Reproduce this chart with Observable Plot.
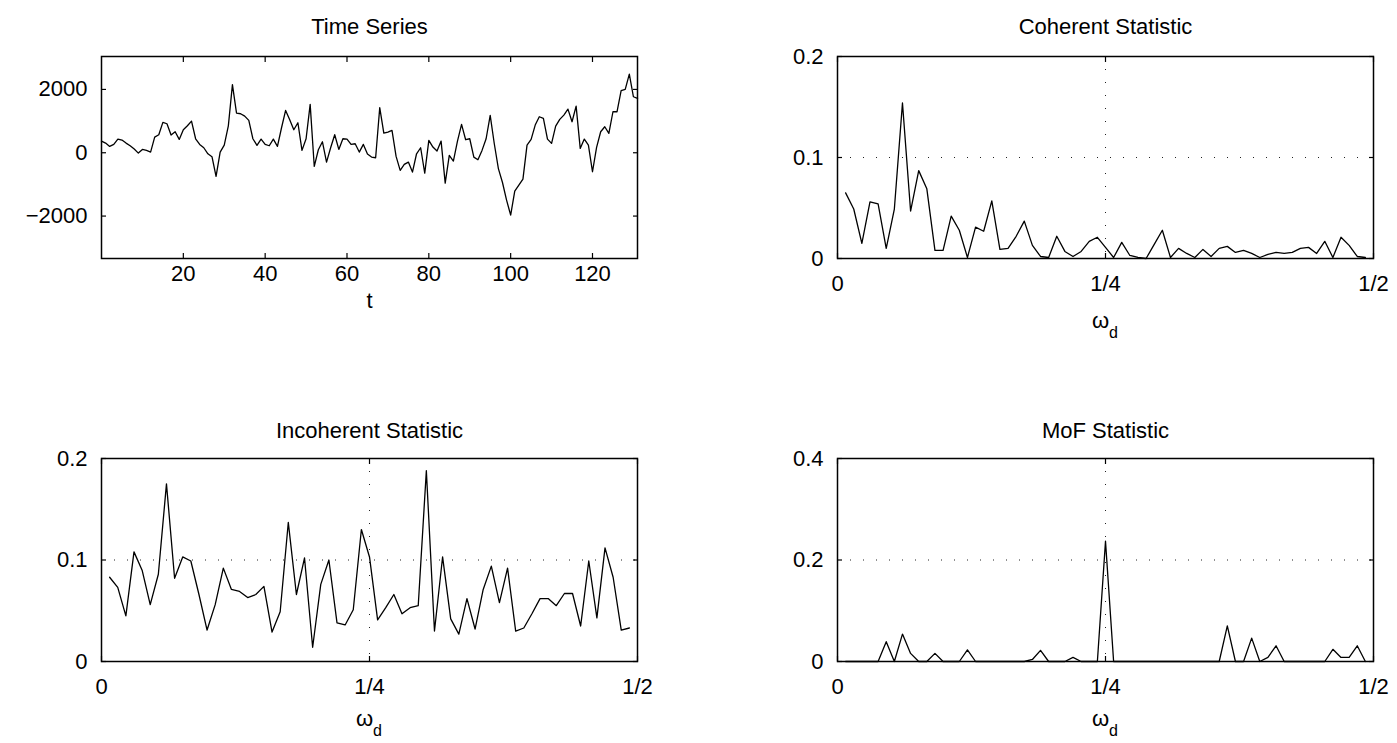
<!DOCTYPE html>
<html><head><meta charset="utf-8">
<script src="https://cdn.jsdelivr.net/npm/d3@7"></script>
<script src="https://cdn.jsdelivr.net/npm/@observablehq/plot@0.6"></script>
<style>
html,body{margin:0;padding:0;background:#fff;}
#root{position:relative;width:1397px;height:743px;overflow:hidden;background:#fff;}
.panel{position:absolute;}
</style></head><body><div id="root"></div>
<script>
// ---------- data ----------
const timeValues = [369,305,200,263,432,400,305,221,116,-11,105,74,21,495,569,958,916,558,663,421,
727,853,1000,442,263,158,-32,-126,-748,21,242,850,2150,1253,1232,1158,1021,442,232,432,
263,221,432,200,790,1337,1042,727,948,74,442,1527,-432,95,347,-295,158,569,105,442,
432,263,284,21,263,-40,-137,-158,1422,621,653,706,-116,-558,-369,-295,-611,-32,158,-642,
390,179,53,369,-958,-84,-263,369,895,411,442,-137,-221,74,442,1179,284,-500,-940,-1495,
-1969,-1211,-1021,-832,242,421,874,1137,1085,432,295,842,1053,1190,1379,979,1474,137,432,242,
-600,168,663,821,611,1295,1295,1959,2001,2485,1769,1716];
const coherentValues = [0.065,0.049,0.015,0.056,0.054,0.010,0.049,0.154,0.047,0.087,
0.069,0.008,0.008,0.042,0.028,0.001,0.031,0.027,0.057,0.009,
0.010,0.022,0.037,0.013,0.002,0.001,0.022,0.007,0.002,0.007,
0.017,0.021,0.011,0.001,0.016,0.003,0.001,0.000,0.014,0.028,
0.001,0.010,0.005,0.001,0.009,0.002,0.010,0.012,0.006,0.008,
0.005,0.001,0.004,0.006,0.005,0.006,0.010,0.011,0.005,0.017,
0.001,0.021,0.013,0.002,0.001];
const incoherentValues = [0.083,0.073,0.045,0.108,0.090,0.056,0.086,0.175,0.082,0.103,
0.099,0.066,0.031,0.056,0.092,0.071,0.069,0.063,0.066,0.074,
0.029,0.049,0.137,0.066,0.102,0.014,0.076,0.100,0.038,0.036,
0.051,0.130,0.103,0.041,0.053,0.066,0.047,0.053,0.055,0.188,
0.030,0.103,0.042,0.027,0.062,0.032,0.071,0.094,0.058,0.092,
0.030,0.033,0.047,0.062,0.062,0.055,0.067,0.067,0.035,0.099,
0.043,0.112,0.083,0.031,0.033];
const mofValues = [0,0,0,0,0,0.039,0,0.054,0.016,0,
0,0.016,0,0,0,0.023,0,0,0,0,
0,0,0,0.004,0.022,0,0,0,0.008,0,
0,0,0.237,0,0,0,0,0,0,0,
0,0,0,0,0,0,0,0.070,0,0,
0.046,0,0.008,0.031,0,0,0,0,0,0,
0.024,0.008,0.008,0.031,0];
const seriesLength = 132;           // frequencies are k / seriesLength
const timeTicksX = [20,40,60,80,100,120];
const timeTicksY = [-2000,0,2000];
const freqTicks = [0,0.25,0.5];
const freqTickLabels = ["0","1/4","1/2"];
const coherentTicksY = [0,0.1,0.2];
const incoherentTicksY = [0,0.1,0.2];
const mofTicksY = [0,0.2,0.4];
const titles = ["Time Series","Coherent Statistic","Incoherent Statistic","MoF Statistic"];

// ---------- helpers ----------
const FONT = "'Liberation Sans', Arial, Helvetica, sans-serif";
const root = document.getElementById("root");
const dotted = {stroke: "#222", strokeWidth: 1, strokeDasharray: "1,12"};

function freqRows(values) {
  return values.map((v, i) => ({f: (i + 1) / seriesLength, v}));
}
function fmtY(v) { return v === 0 ? "0" : String(v).replace("-", "\u2212"); }

function panel({left, top, width, height, mTop, mLeft, mBottom, mRight,
                xDomain, yDomain, xTicks, xFormat, xPad, yTicks, rows, xKey,
                gridX, gridY, title, titleDy, xlabel}) {
  const marks = [];
  if (gridY != null) marks.push(Plot.ruleY([gridY], dotted));
  if (gridX != null) marks.push(Plot.ruleX([gridX], dotted));
  marks.push(Plot.line(rows, {x: xKey, y: "v", stroke: "black", strokeWidth: 1.3}));
  marks.push(Plot.frame({stroke: "black", strokeWidth: 1.5}));
  marks.push(Plot.axisX(xTicks, {anchor: "bottom", tickSize: -5, tickPadding: xPad, tickFormat: xFormat, label: null, strokeWidth: 1.2}));
  marks.push(Plot.axisX(xTicks, {anchor: "top", tickSize: -5, fill: "none", label: null, strokeWidth: 1.2}));
  marks.push(Plot.axisY(yTicks, {anchor: "left", tickSize: -5, tickPadding: 19, tickFormat: fmtY, label: null, strokeWidth: 1.2}));
  marks.push(Plot.axisY(yTicks, {anchor: "right", tickSize: -5, fill: "none", label: null, strokeWidth: 1.2}));
  marks.push(Plot.text([title], {frameAnchor: "top", dy: titleDy, lineAnchor: "middle", fontSize: 22, fill: "black"}));
  if (xlabel === "t") {
    marks.push(Plot.text(["t"], {frameAnchor: "bottom", dy: 42, lineAnchor: "middle", fontSize: 22, fill: "black"}));
  } else {
    marks.push(Plot.text(["\u03c9"], {frameAnchor: "bottom", dy: xlabel.dy, dx: -5, lineAnchor: "middle", fontSize: 22, fill: "black"}));
    marks.push(Plot.text(["d"], {frameAnchor: "bottom", dy: xlabel.dy + 12, dx: 8, lineAnchor: "middle", fontSize: 16, fill: "black"}));
  }
  const svg = Plot.plot({
    width, height,
    marginTop: mTop, marginLeft: mLeft, marginBottom: mBottom, marginRight: mRight,
    x: {domain: xDomain, label: null},
    y: {domain: yDomain, label: null},
    style: {fontFamily: FONT, fontSize: "22px", color: "black", background: "white", overflow: "visible"},
    marks
  });
  svg.classList.add("panel");
  svg.style.left = left + "px";
  svg.style.top = top + "px";
  svg.style.position = "absolute";
  root.appendChild(svg);
}

const fracFormat = (d) => freqTickLabels[freqTicks.indexOf(d)];

// Time series
panel({left: 0, top: 0, width: 698, height: 371, mTop: 56, mLeft: 101, mBottom: 113, mRight: 61,
  xDomain: [0, 131], yDomain: [-3340, 3040], xTicks: timeTicksX, xFormat: d => String(d), xPad: 12,
  yTicks: timeTicksY, rows: timeValues.map((v, i) => ({t: i, v})), xKey: "t",
  title: titles[0], titleDy: -30, xlabel: "t"});

// Coherent
panel({left: 698, top: 0, width: 699, height: 371, mTop: 56, mLeft: 139, mBottom: 113, mRight: 24,
  xDomain: [0, 0.5], yDomain: [0, 0.2], xTicks: freqTicks, xFormat: fracFormat, xPad: 22,
  yTicks: coherentTicksY, rows: freqRows(coherentValues), xKey: "f",
  gridX: 0.25, gridY: 0.1, title: titles[1], titleDy: -30, xlabel: {dy: 62}});

// Incoherent
panel({left: 0, top: 371, width: 698, height: 372, mTop: 87, mLeft: 101, mBottom: 82, mRight: 61,
  xDomain: [0, 0.5], yDomain: [0, 0.2], xTicks: freqTicks, xFormat: fracFormat, xPad: 22,
  yTicks: incoherentTicksY, rows: freqRows(incoherentValues), xKey: "f",
  gridX: 0.25, gridY: 0.1, title: titles[2], titleDy: -28, xlabel: {dy: 57}});

// MoF
panel({left: 698, top: 371, width: 699, height: 372, mTop: 87, mLeft: 139, mBottom: 82, mRight: 24,
  xDomain: [0, 0.5], yDomain: [0, 0.4], xTicks: freqTicks, xFormat: fracFormat, xPad: 22,
  yTicks: mofTicksY, rows: freqRows(mofValues), xKey: "f",
  gridX: 0.25, gridY: 0.2, title: titles[3], titleDy: -28, xlabel: {dy: 57}});
</script>
</body></html>
